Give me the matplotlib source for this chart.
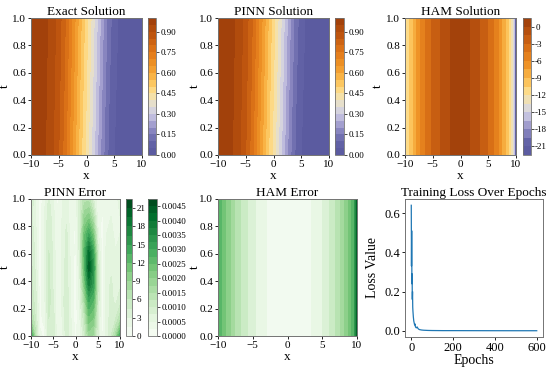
import numpy as np
import matplotlib.pyplot as plt
from matplotlib.colors import LinearSegmentedColormap

plt.rcParams['font.family'] = ['Liberation Serif', 'DejaVu Serif']

# grid positions
x_sol = [-10, -9, -8, -7, -6, -5, -4, -3, -2, -1, 0, 1, 2, 3, 4, 5, 6, 7, 8, 9, 10]
t_sol = [0.0, 1.0]

# exact (and PINN) solution, rows t=0 and t=1
exact_t0 = [0.99, 0.98, 0.965, 0.94, 0.90, 0.85, 0.78, 0.69, 0.60, 0.51, 0.43,
            0.34, 0.25, 0.16, 0.09, 0.05, 0.03, 0.02, 0.01, 0.005, 0.003]
exact_t1 = [0.99, 0.985, 0.97, 0.95, 0.92, 0.875, 0.815, 0.735, 0.645, 0.555, 0.47,
            0.385, 0.295, 0.205, 0.125, 0.07, 0.04, 0.025, 0.015, 0.008, 0.004]

# HAM solution and HAM error, nearly independent of t
x_ham = [-10, -9, -8, -7, -6, -5, -4, -3, -2, -1, 0, 1, 2, 3, 4, 5, 6, 7, 8, 9,
         9.5, 9.75, 10]
ham_u = [-12.5, -10, -7.5, -5.5, -4, -2.7, -1.7, -0.9, -0.1, 0.6, 1.0,
         0.6, -0.2, -1.0, -1.9, -3.0, -4.5, -6.2, -8.5, -11.5, -13.5, -16.5, -22.5]
ham_err = [13.5, 11, 8.5, 6.4, 4.9, 3.5, 2.5, 1.6, 0.7, 0.1, 0.5,
           0.3, 0.45, 1.2, 2.0, 3.0, 4.5, 6.2, 8.5, 11.5, 13.5, 16.5, 22.5]

# PINN absolute error, units of 1e-4
t_err = [0.0, 0.125, 0.25, 0.375, 0.5, 0.625, 0.75, 0.875, 1.0]
pinn_err = [
    [32, 14, 3, 2, 9, 10, 3, 4, 9, 5, 2, 4, 10, 18, 17, 8, 2, 6, 10, 16, 30],
    [16, 10, 2, 3, 10, 9, 2, 5, 10, 5, 1, 5, 12, 24, 22, 9, 1, 6, 9, 10, 14],
    [12, 9, 2, 4, 11, 8, 2, 6, 10, 4, 1, 6, 16, 30, 27, 10, 1, 6, 8, 7, 9],
    [11, 8, 1, 5, 11, 7, 2, 6, 9, 4, 1, 7, 22, 38, 32, 11, 1, 6, 8, 6, 7],
    [11, 7, 1, 5, 11, 7, 2, 6, 9, 4, 1, 8, 26, 44, 34, 11, 1, 6, 7, 5, 6],
    [10, 7, 1, 5, 10, 7, 2, 6, 8, 4, 2, 9, 27, 40, 30, 9, 1, 6, 7, 5, 6],
    [9, 6, 1, 5, 10, 6, 2, 6, 8, 3, 2, 9, 24, 30, 22, 6, 1, 5, 6, 4, 5],
    [9, 5, 1, 5, 9, 6, 2, 5, 7, 3, 3, 9, 19, 21, 14, 4, 2, 5, 5, 4, 5],
    [10, 5, 1, 4, 8, 5, 2, 5, 6, 3, 4, 9, 14, 14, 8, 3, 3, 5, 5, 4, 6],
]

# training loss
epochs = [0, 1, 2, 3, 4, 5, 6, 7, 8, 10, 12, 14, 16, 18, 20, 24, 28, 32, 36, 40,
          50, 60, 80, 100, 150, 200, 300, 400, 500, 600]
loss = [0.64, 0.33, 0.51, 0.24, 0.29, 0.16, 0.2, 0.12, 0.1, 0.07, 0.05, 0.04, 0.03,
        0.035, 0.02, 0.015, 0.02, 0.012, 0.008, 0.006, 0.004, 0.003, 0.002, 0.0015,
        0.001, 0.001, 0.0008, 0.0006, 0.0005, 0.0005]

cmap_sol = LinearSegmentedColormap.from_list('sol', [
    (0.00, '#58589e'), (0.10, '#6464a8'), (0.20, '#9692c8'), (0.30, '#cdcbe4'),
    (0.36, '#e1ded7'), (0.45, '#fde296'), (0.55, '#fcbe50'), (0.65, '#f09628'),
    (0.75, '#e17819'), (0.88, '#be550f'), (1.00, '#9b3c0a')])

W, H = 550, 367
fig = plt.figure(figsize=(W / 100, H / 100), dpi=100)


def box(l, t, r, b):
    return [l / W, (H - b) / H, (r - l) / W, (b - t) / H]


def style(ax, title, ylab_px, width_px):
    ax.set_title(title, fontsize=9.5, pad=2)
    ax.set_xlabel('x', fontsize=9.5, labelpad=1)
    ax.set_ylabel('t', fontsize=9.5)
    ax.yaxis.set_label_coords(-ylab_px / width_px, 0.5)
    ax.tick_params(labelsize=8, length=2.5, width=0.6, pad=1)
    ax.set_xticks([-10, -5, 0, 5, 10])
    ax.set_yticks([0, 0.2, 0.4, 0.6, 0.8, 1.0])
    for s in ax.spines.values():
        s.set_color('0.45')
        s.set_linewidth(0.7)


def cbar(cs, rect, ticks, fmt):
    cax = fig.add_axes(box(*rect))
    cb = fig.colorbar(cs, cax=cax, ticks=ticks, format=fmt)
    cb.ax.tick_params(labelsize=6.5, length=2, width=0.5, pad=1)
    cb.outline.set_edgecolor('0.45')
    cb.outline.set_linewidth(0.6)
    return cb


Xs, Ts = np.meshgrid(x_sol, t_sol)
Zex = np.array([exact_t0, exact_t1])
lev_sol = np.linspace(0, 1, 21)
sol_ticks = [0, 0.15, 0.3, 0.45, 0.6, 0.75, 0.9]

ax1 = fig.add_axes(box(31, 18, 142, 155))
cs1 = ax1.contourf(Xs, Ts, Zex, levels=lev_sol, cmap=cmap_sol)
style(ax1, 'Exact Solution', 20, 111)
cbar(cs1, (148, 18, 156, 155), sol_ticks, '%.2f')

ax2 = fig.add_axes(box(218, 18, 329, 155))
cs2 = ax2.contourf(Xs, Ts, Zex, levels=lev_sol, cmap=cmap_sol)
style(ax2, 'PINN Solution', 17, 111)
cbar(cs2, (335, 18, 344, 155), sol_ticks, '%.2f')

Xh, Th = np.meshgrid(x_ham, t_sol)
ax3 = fig.add_axes(box(405, 18, 516, 155))
cs3 = ax3.contourf(Xh, Th, np.array([ham_u, ham_u]),
                   levels=np.arange(-22.5, 1.51, 1.5), cmap=cmap_sol)
style(ax3, 'HAM Solution', 21, 111)
cbar(cs3, (523, 18, 531, 155), list(range(0, -22, -3)), '%d')

Xe, Te = np.meshgrid(x_sol, t_err)
ax4 = fig.add_axes(box(31, 199, 120, 336))
cs4 = ax4.contourf(Xe, Te, np.array(pinn_err) * 1e-4,
                   levels=np.linspace(0, 0.00475, 20), cmap='Greens')
style(ax4, 'PINN Error', 20, 89)

ax5 = fig.add_axes(box(218, 199, 357, 336))
cs5 = ax5.contourf(Xh, Th, np.array([ham_err, ham_err]),
                   levels=np.arange(0, 22.51, 1.5), cmap='Greens')
style(ax5, 'HAM Error', 17, 139)

cbar(cs5, (126, 199, 132, 336), list(range(0, 22, 3)), '%d')
cbar(cs4, (148, 199, 157, 336), list(np.arange(0, 0.00451, 0.0005)), '%.4f')

ax6 = fig.add_axes(box(405, 199, 543, 337))
ax6.plot(epochs, loss, color='#1f77b4', lw=0.9)
ax6.set_title('Training Loss Over Epochs', fontsize=9.5, pad=2)
ax6.set_xlabel('Epochs', fontsize=10, labelpad=0)
ax6.set_ylabel('Loss Value', fontsize=10)
ax6.yaxis.set_label_coords(-26 / 138, 0.5)
ax6.set_xticks([0, 200, 400, 600])
ax6.set_yticks([0, 0.2, 0.4, 0.6])
ax6.tick_params(labelsize=9, length=2.5, width=0.6, pad=1)
for s in ax6.spines.values():
    s.set_color('0.45')
    s.set_linewidth(0.7)

fig.savefig('out.png', dpi=100)
